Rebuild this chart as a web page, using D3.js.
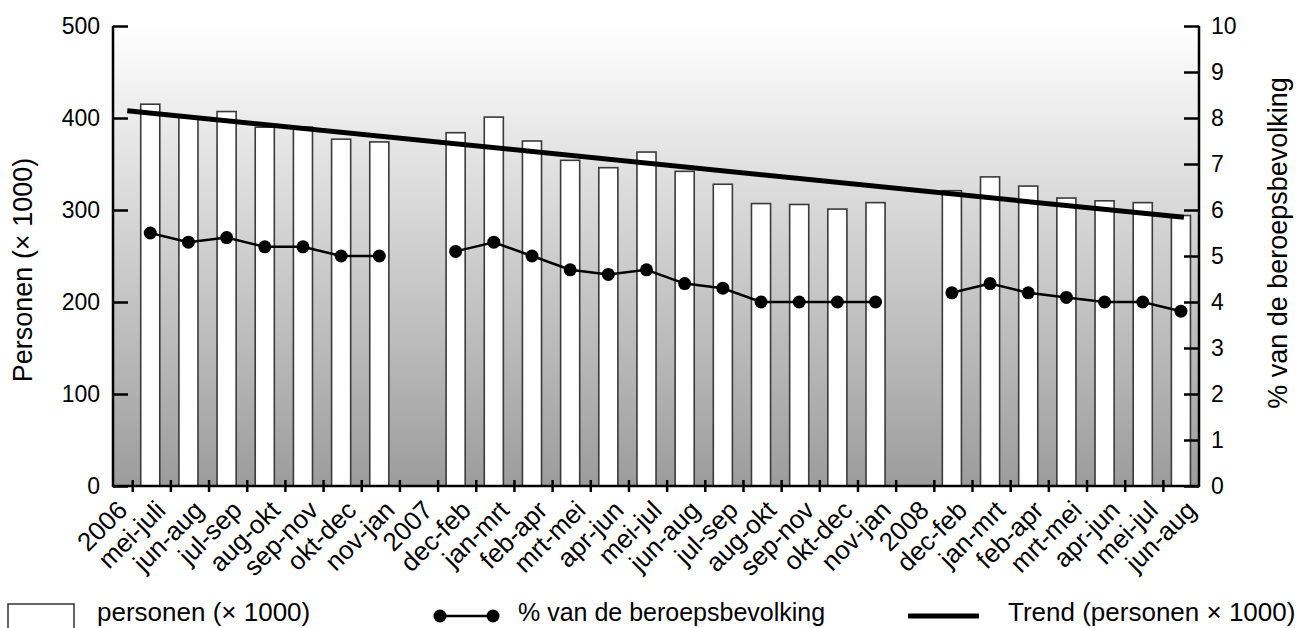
<!DOCTYPE html>
<html>
<head>
<meta charset="utf-8">
<script src="https://cdn.jsdelivr.net/npm/d3@7"></script>
<style>
  body { margin: 0; background: #fff; }
  svg { display: block; font-family: "Liberation Sans", Arial, sans-serif; }
</style>
</head>
<body>
<div id="chart"></div>
<script>
// periodes op de x-as (lege plekken zijn de jaartallen)
var labels = ["2006", "mei-juli", "jun-aug", "jul-sep", "aug-okt", "sep-nov", "okt-dec", "nov-jan",
    "2007", "dec-feb", "jan-mrt", "feb-apr", "mrt-mei", "apr-jun", "mei-jul", "jun-aug", "jul-sep",
    "aug-okt", "sep-nov", "okt-dec", "nov-jan",
    "2008", "dec-feb", "jan-mrt", "feb-apr", "mrt-mei", "apr-jun", "mei-jul", "jun-aug"];

// personen (x 1000)
var personen = [null, 415, 401, 407, 390, 390, 377, 374,
    null, 384, 401, 375, 354, 346, 363, 342, 328, 307, 306, 301, 308,
    null, 321, 336, 326, 313, 310, 308, 294];

// % van de beroepsbevolking
var procent = [null, 5.5, 5.3, 5.4, 5.2, 5.2, 5.0, 5.0,
    null, 5.1, 5.3, 5.0, 4.7, 4.6, 4.7, 4.4, 4.3, 4.0, 4.0, 4.0, 4.0,
    null, 4.2, 4.4, 4.2, 4.1, 4.0, 4.0, 3.8];

// trend (personen x 1000), begin- en eindwaarde
var trend = [408, 292];

var leftTicks = [0, 100, 200, 300, 400, 500],
    rightTicks = [0, 1, 2, 3, 4, 5, 6, 7, 8, 9, 10];

var width = 1304,
    height = 628,
    plotLeft = 113,
    plotRight = 1199,
    plotTop = 26,
    plotBottom = 486;

var svg = d3.select("#chart").append("svg")
    .attr("width", width)
    .attr("height", height);

var x = d3.scaleBand()
    .domain(d3.range(labels.length))
    .range([93, 1200])
    .paddingInner(0.5)
    .paddingOuter(0.25);

var yLeft = d3.scaleLinear().domain([0, 500]).range([plotBottom, plotTop]),
    yRight = d3.scaleLinear().domain([0, 10]).range([plotBottom, plotTop]);

// achtergrond met verloop
var grad = svg.append("defs").append("linearGradient")
    .attr("id", "bg")
    .attr("x1", 0).attr("y1", 0).attr("x2", 0).attr("y2", 1);
grad.append("stop").attr("offset", "0%").attr("stop-color", "#ffffff");
grad.append("stop").attr("offset", "100%").attr("stop-color", "#9c9c9c");

svg.append("rect")
    .attr("x", plotLeft)
    .attr("y", plotTop)
    .attr("width", plotRight - plotLeft)
    .attr("height", plotBottom - plotTop)
    .attr("fill", "url(#bg)");

// staven
svg.selectAll("rect.bar")
    .data(personen.map(function (v, i) { return {i: i, v: v}; }).filter(function (d) { return d.v != null; }))
    .enter().append("rect")
    .attr("class", "bar")
    .attr("x", function (d) { return x(d.i); })
    .attr("y", function (d) { return yLeft(d.v); })
    .attr("width", x.bandwidth())
    .attr("height", function (d) { return yLeft(0) - yLeft(d.v); })
    .attr("fill", "#fff")
    .attr("stroke", "#3a3a3a")
    .attr("stroke-width", 1.6);

// trendlijn
var firstBar = 1, lastBar = labels.length - 1;
svg.append("line")
    .attr("x1", x(firstBar) + x.bandwidth() / 2 - 23)
    .attr("y1", yLeft(trend[0]))
    .attr("x2", x(lastBar) + x.bandwidth() / 2 + 3)
    .attr("y2", yLeft(trend[1]))
    .attr("stroke", "#000")
    .attr("stroke-width", 5);

// lijn met punten
var line = d3.line()
    .defined(function (d) { return d != null; })
    .x(function (d, i) { return x(i) + x.bandwidth() / 2; })
    .y(function (d) { return yRight(d); });

svg.append("path")
    .datum(procent)
    .attr("d", line)
    .attr("fill", "none")
    .attr("stroke", "#000")
    .attr("stroke-width", 2.5);

svg.selectAll("circle.dot")
    .data(procent.map(function (v, i) { return {i: i, v: v}; }).filter(function (d) { return d.v != null; }))
    .enter().append("circle")
    .attr("class", "dot")
    .attr("cx", function (d) { return x(d.i) + x.bandwidth() / 2; })
    .attr("cy", function (d) { return yRight(d.v); })
    .attr("r", 6.5)
    .attr("fill", "#000");

// assen
var axisLeft = svg.append("g")
    .attr("transform", "translate(" + plotLeft + ",0)")
    .call(d3.axisLeft(yLeft).tickValues(leftTicks).tickSizeInner(-15).tickSizeOuter(0).tickPadding(13));

var axisRight = svg.append("g")
    .attr("transform", "translate(" + plotRight + ",0)")
    .call(d3.axisRight(yRight).tickValues(rightTicks).tickSizeInner(-15).tickSizeOuter(0).tickPadding(12));

[axisLeft, axisRight].forEach(function (g) {
    g.select(".domain").attr("stroke-width", 2.5).attr("d", "M0," + (plotBottom + 1) + "V" + plotTop);
    g.selectAll(".tick line").attr("stroke-width", 2.5);
    g.selectAll(".tick text")
        .attr("font-size", 23)
        .attr("font-family", "Liberation Sans, Arial, sans-serif")
        .attr("fill", "#000");
});

svg.append("line")
    .attr("x1", plotLeft - 1).attr("x2", plotRight + 1)
    .attr("y1", plotBottom).attr("y2", plotBottom)
    .attr("stroke", "#000")
    .attr("stroke-width", 2.5);

svg.selectAll("line.xtick")
    .data(d3.range(1, labels.length))
    .enter().append("line")
    .attr("class", "xtick")
    .attr("x1", function (i) { return x(i) - 8; })
    .attr("x2", function (i) { return x(i) - 8; })
    .attr("y1", plotBottom - 6)
    .attr("y2", plotBottom + 6)
    .attr("stroke", "#000")
    .attr("stroke-width", 2.5);

svg.selectAll("text.xlabel")
    .data(labels)
    .enter().append("text")
    .attr("class", "xlabel")
    .attr("transform", function (d, i) {
        return "translate(" + (x(i) + x.bandwidth() / 2 + 4) + "," + (plotBottom + 13) + ") rotate(-45)";
    })
    .attr("text-anchor", "end")
    .attr("dy", "0.7em")
    .attr("font-size", 26)
    .text(function (d) { return d; });

// astitels
svg.append("text")
    .attr("transform", "translate(32," + ((plotTop + plotBottom) / 2 + 14) + ") rotate(-90)")
    .attr("text-anchor", "middle")
    .attr("font-size", 27)
    .text("Personen (\u00d7 1000)");

svg.append("text")
    .attr("transform", "translate(1287," + ((plotTop + plotBottom) / 2 - 13) + ") rotate(-90)")
    .attr("text-anchor", "middle")
    .attr("font-size", 27)
    .text("% van de beroepsbevolking");

// legenda
var ly = 612;
svg.append("rect")
    .attr("x", 8).attr("y", 604).attr("width", 66).attr("height", 34)
    .attr("fill", "#fff").attr("stroke", "#333").attr("stroke-width", 1.5);
svg.append("text").attr("x", 97).attr("y", ly + 9).attr("font-size", 26).text("personen (\u00d7 1000)");

svg.append("line")
    .attr("x1", 440).attr("x2", 493).attr("y1", ly + 4).attr("y2", ly + 4)
    .attr("stroke", "#000").attr("stroke-width", 2.5);
svg.selectAll("circle.ldot")
    .data([440, 493])
    .enter().append("circle")
    .attr("class", "ldot")
    .attr("cx", function (d) { return d; })
    .attr("cy", ly + 4)
    .attr("r", 6.5)
    .attr("fill", "#000");
svg.append("text").attr("x", 518).attr("y", ly + 9).attr("font-size", 25).text("% van de beroepsbevolking");

svg.append("line")
    .attr("x1", 908).attr("x2", 979).attr("y1", ly + 4).attr("y2", ly + 4)
    .attr("stroke", "#000").attr("stroke-width", 5);
svg.append("text").attr("x", 1008).attr("y", ly + 9).attr("font-size", 26).text("Trend (personen \u00d7 1000)");
</script>
</body>
</html>
